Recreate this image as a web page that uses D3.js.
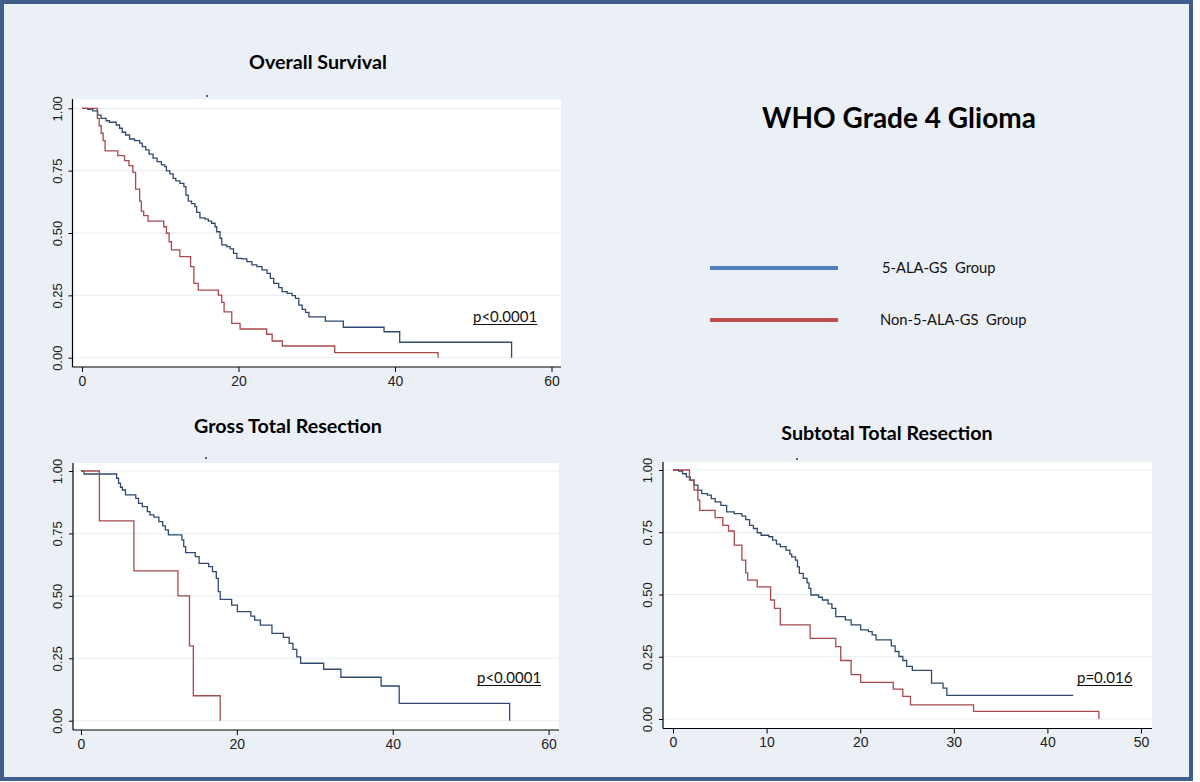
<!DOCTYPE html>
<html>
<head>
<meta charset="utf-8">
<script src="https://cdn.jsdelivr.net/npm/d3@7"></script>
<style>
  body { margin: 0; background: #fff; }
  svg { display: block; }
  .tick text { font-family: "Liberation Sans", Arial, sans-serif; fill: #222; }
  .ttl { font-family: Lato, "Open Sans", sans-serif; font-weight: bold; fill: #000; }
</style>
</head>
<body>
<svg id="chart" width="1200" height="782"></svg>
<script>

// Kaplan-Meier steps: [months, survival]
const osAla = [[0,1],[0.73,0.996],[1.37,0.99],[2.01,0.973],[2.44,0.96],[3.08,0.95],[3.51,0.944],[4.37,0.933],[4.8,0.92],[5.14,0.904],[5.57,0.893],[6.08,0.877],[6.72,0.87],[7.37,0.86],[7.71,0.846],[8.14,0.833],[8.57,0.816],[9.08,0.8],[9.59,0.786],[10.15,0.773],[10.58,0.766],[10.79,0.749],[11.22,0.737],[11.65,0.719],[11.99,0.709],[12.51,0.699],[13.02,0.686],[13.28,0.652],[13.58,0.628],[14.0,0.618],[14.43,0.606],[14.65,0.583],[15.07,0.561],[15.72,0.556],[16.15,0.548],[16.57,0.539],[17.0,0.525],[17.22,0.505],[17.64,0.479],[17.86,0.452],[18.5,0.445],[18.93,0.436],[19.36,0.418],[19.79,0.398],[20.43,0.396],[21.07,0.385],[21.71,0.372],[22.36,0.365],[23.0,0.352],[23.64,0.338],[24.07,0.318],[24.5,0.298],[25.14,0.281],[25.57,0.265],[26.21,0.258],[26.85,0.249],[27.28,0.238],[27.71,0.211],[28.14,0.194],[28.57,0.182],[29.0,0.164],[31.1,0.147],[33.4,0.122],[38.6,0.104],[40.6,0.062],[54.9,0]];
const osNon = [[0,1],[1.96,0.96],[2.2,0.93],[2.45,0.9],[2.7,0.87],[2.95,0.829],[4.58,0.81],[5.44,0.79],[6.0,0.77],[6.5,0.743],[6.85,0.676],[7.37,0.628],[7.58,0.588],[7.88,0.57],[8.44,0.548],[10.45,0.525],[10.79,0.499],[11.13,0.465],[11.43,0.432],[12.5,0.405],[13.88,0.365],[14.3,0.298],[14.86,0.271],[17.43,0.251],[17.86,0.222],[18.16,0.184],[19.14,0.138],[20.2,0.115],[23.6,0.094],[24.3,0.067],[25.6,0.047],[32.3,0.02],[45.5,0]];

const gtrAla = [[0,1],[0.4,0.988],[4.57,0.971],[4.82,0.951],[5.07,0.935],[5.31,0.924],[5.71,0.904],[7.03,0.89],[7.38,0.87],[7.87,0.857],[8.51,0.837],[8.85,0.824],[9.35,0.815],[9.99,0.797],[10.48,0.78],[10.82,0.764],[11.21,0.744],[12.94,0.724],[13.18,0.697],[13.43,0.673],[14.66,0.657],[15.15,0.63],[16.38,0.617],[16.87,0.597],[17.36,0.57],[17.61,0.517],[17.86,0.486],[19.33,0.463],[20.07,0.437],[21.79,0.419],[22.29,0.403],[23.02,0.383],[24.5,0.35],[25.97,0.334],[26.71,0.31],[27.2,0.286],[27.69,0.256],[28.18,0.23],[31.14,0.206],[33.35,0.174],[38.51,0.139],[40.83,0.069],[55.0,0]];
const gtrNon = [[0,1],[2.36,0.8],[6.79,0.6],[12.44,0.5],[13.92,0.3],[14.41,0.1],[17.86,0]];

const strAla = [[0,1],[0.61,0.996],[1.02,0.985],[1.43,0.972],[1.84,0.959],[2.25,0.939],[2.66,0.919],[3.07,0.905],[3.68,0.899],[4.09,0.885],[4.5,0.872],[5.11,0.858],[5.73,0.832],[6.55,0.825],[7.36,0.815],[7.77,0.801],[8.18,0.778],[8.59,0.765],[9.0,0.748],[9.41,0.738],[10.23,0.732],[10.64,0.718],[11.05,0.702],[11.46,0.692],[12.07,0.678],[12.48,0.662],[12.68,0.651],[13.09,0.638],[13.3,0.611],[13.5,0.585],[13.91,0.565],[14.32,0.547],[14.53,0.525],[14.73,0.498],[15.55,0.489],[15.96,0.478],[16.57,0.462],[16.98,0.444],[17.39,0.411],[18.41,0.398],[19.03,0.378],[20.05,0.358],[20.87,0.351],[21.28,0.338],[21.69,0.318],[23.32,0.294],[23.73,0.271],[24.14,0.251],[24.55,0.235],[24.96,0.211],[25.57,0.195],[27.62,0.144],[28.85,0.124],[29.26,0.095],[42.76,0.095]];
const strNon = [[0,1],[1.76,0.959],[2.25,0.919],[2.66,0.879],[2.86,0.838],[4.5,0.809],[5.32,0.778],[5.93,0.755],[6.55,0.698],[7.36,0.638],[7.77,0.587],[7.98,0.558],[9.0,0.531],[10.43,0.478],[10.84,0.444],[11.46,0.378],[14.65,0.324],[17.39,0.291],[17.92,0.235],[19.03,0.178],[20.05,0.147],[23.53,0.12],[24.55,0.091],[25.37,0.057],[32.11,0.031],[45.5,0]];

const yTicks = [0, 0.25, 0.5, 0.75, 1];
const xTicks60 = [0, 20, 40, 60];
const xTicks50 = [0, 10, 20, 30, 40, 50];

const groupNames = ['5-ALA-GS  Group', 'Non-5-ALA-GS  Group'];
const legendColors = ['#4F81BD', '#C0504D'];
const curveColors = ['#2E4A72', '#A84A4B'];

const svg = d3.select('#chart');

// slide background + frame
svg.append('rect')
  .attr('x', 2).attr('y', 2)
  .attr('width', 1189).attr('height', 777)
  .attr('fill', '#EBEFF6')
  .attr('stroke', '#3F5E8C')
  .attr('stroke-width', 4);

const panels = [
  { title: 'Overall Survival', tx: 318, ty: 69,
    box: [72.5, 561, 99, 367], xr: [82, 551.5], yr: [357.7, 108.3],
    xMax: 60, xTicks: xTicks60, ala: osAla, non: osNon,
    p: 'p<0.0001', px: 473, py: 322, dot: [207, 96] },
  { title: 'Gross Total Resection', tx: 288, ty: 433,
    box: [73, 559, 463, 730], xr: [81, 548.6], yr: [720.7, 471],
    xMax: 60, xTicks: xTicks60, ala: gtrAla, non: gtrNon,
    p: 'p<0.0001', px: 477, py: 683, dot: [206, 458] },
  { title: 'Subtotal Total Resection', tx: 887, ty: 440,
    box: [663, 1152, 462, 728.5], xr: [673, 1141], yr: [719, 470],
    xMax: 50, xTicks: xTicks50, ala: strAla, non: strNon,
    p: 'p=0.016', px: 1077, py: 683, dot: [797, 459] }
];

panels.forEach(function(pn){
  const [x0, x1, y0, y1] = pn.box;
  const x = d3.scaleLinear().domain([0, pn.xMax]).range(pn.xr);
  const y = d3.scaleLinear().domain([0, 1]).range(pn.yr);
  const g = svg.append('g');

  g.append('text').attr('class', 'ttl')
    .attr('x', pn.tx).attr('y', pn.ty)
    .attr('text-anchor', 'middle')
    .attr('font-size', 19.7)
    .text(pn.title);

  g.append('rect')
    .attr('x', x0).attr('y', y0)
    .attr('width', x1 - x0).attr('height', y1 - y0)
    .attr('fill', '#fff');

  g.append('circle').attr('cx', pn.dot[0]).attr('cy', pn.dot[1]).attr('r', 1).attr('fill', '#333');

  // grid
  g.selectAll('.grid').data(yTicks).enter().append('line')
    .attr('x1', x0).attr('x2', x1)
    .attr('y1', d => y(d)).attr('y2', d => y(d))
    .attr('stroke', '#E6ECF3').attr('stroke-width', 1);

  // axes
  const ax = g.append('g').attr('transform', `translate(0,${y1})`)
    .call(d3.axisBottom(x).tickValues(pn.xTicks).tickSize(5).tickPadding(4));
  ax.select('.domain').remove();
  ax.selectAll('text').attr('font-size', 14);

  const ay = g.append('g').attr('transform', `translate(${x0},0)`)
    .call(d3.axisLeft(y).tickValues(yTicks).tickFormat(d3.format('.2f')).tickSize(4));
  ay.select('.domain').remove();
  ay.selectAll('text')
    .attr('x', 0).attr('dy', 0)
    .attr('text-anchor', 'middle')
    .attr('font-size', 13)
    .attr('transform', 'translate(-11,0) rotate(-90)');

  g.append('line').attr('x1', x0).attr('x2', x0).attr('y1', y0).attr('y2', y1)
    .attr('stroke', '#000').attr('stroke-width', 1.2);
  g.append('line').attr('x1', x0).attr('x2', x1).attr('y1', y1).attr('y2', y1)
    .attr('stroke', '#000').attr('stroke-width', 1.2);

  // curves
  const step = d3.line().x(d => x(d[0])).y(d => y(d[1])).curve(d3.curveStepAfter);
  [pn.ala, pn.non].forEach(function(series, i){
    g.append('path').datum(series)
      .attr('d', step)
      .attr('fill', 'none')
      .attr('stroke', curveColors[i])
      .attr('stroke-width', 1.3);
  });

  // p value, underlined
  const pt = g.append('text')
    .attr('x', pn.px).attr('y', pn.py)
    .attr('font-family', 'Lato, sans-serif')
    .attr('font-size', 15)
    .attr('fill', '#111')
    .text(pn.p);
  const w = pt.node().getComputedTextLength();
  g.append('line')
    .attr('x1', pn.px).attr('x2', pn.px + w)
    .attr('y1', pn.py + 2.5).attr('y2', pn.py + 2.5)
    .attr('stroke', '#111').attr('stroke-width', 1);
});

// heading
svg.append('text').attr('class', 'ttl')
  .attr('x', 899).attr('y', 128)
  .attr('text-anchor', 'middle')
  .attr('font-size', 28)
  .text('WHO Grade 4 Glioma');

// legend
const legY = [268, 320];
groupNames.forEach(function(name, i){
  svg.append('line')
    .attr('x1', 710).attr('x2', 838)
    .attr('y1', legY[i]).attr('y2', legY[i])
    .attr('stroke', legendColors[i]).attr('stroke-width', 4);
  svg.append('text')
    .attr('x', i === 0 ? 882 : 880).attr('y', legY[i] + 5)
    .attr('font-family', 'Lato, sans-serif')
    .attr('font-size', 14.7)
    .attr('fill', '#111')
    .attr('xml:space', 'preserve')
    .style('white-space', 'pre')
    .text(name);
});

</script>
</body>
</html>
